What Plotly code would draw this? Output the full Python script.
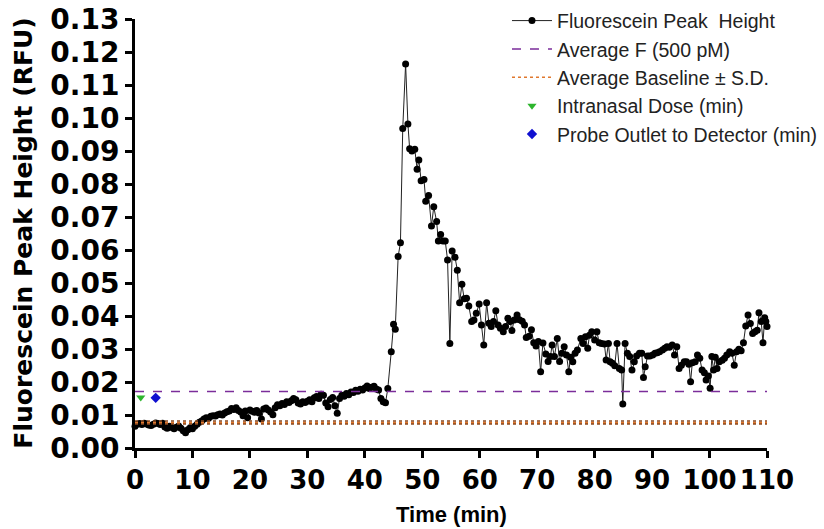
import plotly.graph_objects as go

# Fluorescein peak height trace (time in min, height in RFU)
time_min = [
    0.0, 0.4, 0.8, 1.2, 1.6, 2.0, 2.4, 2.8, 3.2, 3.6, 4.0, 4.4, 4.8, 5.2, 5.6, 6.0, 6.4, 6.8, 7.2, 7.6,
    8.0, 8.4, 8.8, 9.2, 9.6, 10.0, 10.4, 10.8, 11.2, 11.6, 12.0, 12.4, 12.8, 13.2, 13.6, 14.0, 14.4, 14.8,
    15.2, 15.6, 16.0, 16.4, 16.8, 17.2, 17.6, 18.0, 18.4, 18.8, 19.2, 19.6, 20.0, 20.4, 20.8, 21.2, 21.6,
    22.0, 22.4, 22.8, 23.2, 23.6, 24.0, 24.4, 24.8, 25.2, 25.6, 26.0, 26.4, 26.8, 27.2, 27.6, 28.0, 28.4,
    28.8, 29.2, 29.6, 30.0, 30.4, 30.8, 31.2, 31.6, 32.0, 32.4, 32.8, 33.2, 33.6, 34.0, 34.4, 34.8, 35.2,
    35.6, 36.0, 36.4, 36.8, 37.2, 37.6, 38.0, 38.4, 38.8, 39.2, 39.6, 40.0, 40.4, 40.8, 41.2, 41.6, 42.0,
    42.4, 42.8, 43.2, 43.6, 44.0,
    44.6, 45.0, 45.3, 45.8, 46.2, 46.6, 47.1, 47.5, 47.8, 48.2, 48.7, 49.1, 49.4, 49.8, 50.3, 50.6, 51.1,
    51.6, 52.0, 52.5, 52.8, 53.2, 53.6, 54.0, 54.4, 54.8, 55.2, 55.7, 56.1, 56.5, 56.9, 57.3, 57.7, 58.1,
    58.6, 59.0, 59.4, 59.9, 60.3, 60.7, 61.2, 61.6, 62.0, 62.4, 62.8, 63.2, 63.6, 64.1, 64.5, 64.9, 65.3,
    65.6, 66.0, 66.5, 66.9, 67.4, 67.8, 68.1, 68.6, 69.0, 69.4, 69.8, 70.2, 70.6, 71.0, 71.5, 71.9, 72.3,
    72.6, 73.0, 73.5, 73.9, 74.3, 74.7, 75.1, 75.5, 75.8, 76.2, 76.6, 77.0, 77.6, 78.0, 78.4, 78.8, 79.1,
    79.5, 80.0, 80.4, 80.8, 81.2, 81.7, 82.0, 82.4, 82.7, 83.1, 83.5, 83.9, 84.3, 84.7, 84.9, 85.3, 85.7,
    86.1, 86.5, 86.9, 87.3, 87.8, 88.2, 88.5, 88.8, 89.2, 89.6, 90.1, 90.5, 90.9, 91.3, 91.8, 92.2, 92.6,
    93.0, 93.5, 93.9, 94.3, 94.7, 95.1, 95.6, 96.0, 96.4, 96.7, 97.0, 97.5, 97.9, 98.3, 98.7, 99.1, 99.4,
    99.8, 100.1, 100.4, 100.7, 101.0, 101.3, 101.7, 102.2, 102.6, 103.0, 103.5, 103.9, 104.3, 104.7,
    105.1, 105.5, 105.9, 106.3, 106.7, 107.1, 107.5, 107.9, 108.3, 108.6, 109.0, 109.3, 109.6, 109.8, 110.0,
]
peak_height = [
    0.0066, 0.0072, 0.0074, 0.0071, 0.0075, 0.0073, 0.0070, 0.0068, 0.0072, 0.0076, 0.0074, 0.0071, 0.0075,
    0.0064, 0.0060, 0.0066, 0.0062, 0.0058, 0.0063, 0.0067, 0.0060, 0.0052, 0.0046, 0.0055, 0.0061, 0.0058,
    0.0066, 0.0072, 0.0078, 0.0082, 0.0088, 0.0092, 0.0090, 0.0096, 0.0098, 0.0097, 0.0101, 0.0103, 0.0100,
    0.0106, 0.0110, 0.0112, 0.0120, 0.0117, 0.0122, 0.0114, 0.0109, 0.0098, 0.0112, 0.0092, 0.0115, 0.0111,
    0.0108, 0.0114, 0.0106, 0.0088, 0.0118, 0.0121, 0.0115, 0.0109, 0.0101, 0.0122, 0.0131, 0.0128, 0.0135,
    0.0132, 0.0140, 0.0138, 0.0143, 0.0150, 0.0146, 0.0136, 0.0133, 0.0140, 0.0138, 0.0142, 0.0146, 0.0140,
    0.0152, 0.0156, 0.0150, 0.0163, 0.0160, 0.0136, 0.0125, 0.0147, 0.0153, 0.0128, 0.0105, 0.0150, 0.0160,
    0.0157, 0.0165, 0.0161, 0.0170, 0.0168, 0.0175, 0.0172, 0.0178, 0.0176, 0.0182, 0.0188, 0.0180, 0.0184,
    0.0187, 0.0179, 0.0176, 0.0150, 0.0140, 0.0137, 0.0180,
    0.0292, 0.0375, 0.0360, 0.0580, 0.0622, 0.0968, 0.1164, 0.0982, 0.0907, 0.0900, 0.0905, 0.0845, 0.0873,
    0.0810, 0.0814, 0.0748, 0.0765, 0.0673, 0.0731, 0.0686, 0.0627, 0.0647, 0.0627, 0.0627, 0.0570, 0.0317,
    0.0597, 0.0578, 0.0539, 0.0440, 0.0496, 0.0452, 0.0454, 0.0430, 0.0383, 0.0388, 0.0408, 0.0436, 0.0373,
    0.0312, 0.0440, 0.0378, 0.0368, 0.0383, 0.0416, 0.0373, 0.0363, 0.0352, 0.0368, 0.0393, 0.0383, 0.0356,
    0.0388, 0.0403, 0.0389, 0.0384, 0.0373, 0.0335, 0.0339, 0.0358, 0.0319, 0.0309, 0.0323, 0.0231, 0.0318,
    0.0285, 0.0262, 0.0277, 0.0312, 0.0277, 0.0332, 0.0262, 0.0287, 0.0307, 0.0282, 0.0231, 0.0275, 0.0261,
    0.0287, 0.0297, 0.0332, 0.0317, 0.0337, 0.0302, 0.0342, 0.0352, 0.0327, 0.0352, 0.0319, 0.0317, 0.0315,
    0.0267, 0.0317, 0.0261, 0.0257, 0.0249, 0.0317, 0.0241, 0.0236, 0.0133, 0.0317, 0.0287, 0.0277, 0.0236,
    0.0261, 0.0279, 0.0287, 0.0287, 0.0214, 0.0246, 0.0279, 0.0279, 0.0282, 0.0287, 0.0289, 0.0292, 0.0297,
    0.0302, 0.0307, 0.0305, 0.0312, 0.0282, 0.0307, 0.0241, 0.0251, 0.0261, 0.0261, 0.0254, 0.0201, 0.0258,
    0.0261, 0.0282, 0.0272, 0.0236, 0.0228, 0.0206, 0.0218, 0.0181, 0.0277, 0.0236, 0.0275, 0.0241, 0.0261,
    0.0266, 0.0272, 0.0282, 0.0292, 0.0287, 0.0251, 0.0292, 0.0299, 0.0295, 0.0319, 0.0370, 0.0403, 0.0377,
    0.0347, 0.0352, 0.0357, 0.0410, 0.0383, 0.0319, 0.0395, 0.0383, 0.0368,
]

# Reference levels
average_f = 0.0171
baseline_mean = 0.00775
baseline_sd = 0.00045
line_span = [0, 110]

# Event markers (time, height)
dose_time, dose_level = [1.0], [0.0153]
probe_time, probe_level = [3.6], [0.0152]

x_ticks = list(range(0, 111, 10))
y_ticks = [i / 100 for i in range(0, 14)]

fig = go.Figure()

fig.add_trace(go.Scatter(
    x=time_min, y=peak_height, mode="lines+markers",
    name="Fluorescein Peak  Height",
    line=dict(color="#222222", width=1),
    marker=dict(color="black", size=7, symbol="circle"),
    cliponaxis=False,
))

fig.add_trace(go.Scatter(
    x=line_span, y=[average_f, average_f], mode="lines",
    name="Average F (500 pM)",
    line=dict(color="#7B2D9A", width=1.6, dash="dash"),
))

for i, lvl in enumerate([baseline_mean - baseline_sd, baseline_mean, baseline_mean + baseline_sd]):
    fig.add_trace(go.Scatter(
        x=line_span, y=[lvl, lvl], mode="lines",
        name="Average Baseline \u00b1 S.D.",
        legendgroup="baseline", showlegend=(i == 1),
        line=dict(color="#E0782E" if i == 1 else "#8A4A22", width=1.6, dash="dot"),
    ))

fig.add_trace(go.Scatter(
    x=dose_time, y=dose_level, mode="markers",
    name="Intranasal Dose (min)",
    marker=dict(color="#2DB52D", size=8, symbol="triangle-down"),
))

fig.add_trace(go.Scatter(
    x=probe_time, y=probe_level, mode="markers",
    name="Probe Outlet to Detector (min)",
    marker=dict(color="#1010D0", size=8, symbol="diamond"),
))

axis_common = dict(
    showline=True, linecolor="black", linewidth=3,
    ticks="outside", ticklen=7, tickwidth=3, tickcolor="black",
    showgrid=False, zeroline=False, mirror=False, automargin=False,
    tickangle=0,
)

fig.update_xaxes(
    range=[0, 110], tickmode="array", tickvals=x_ticks,
    ticktext=[str(v) for v in x_ticks],
    tickfont=dict(family="DejaVu Sans", size=26, color="black", weight="bold"),
    **axis_common,
)
fig.update_yaxes(
    range=[0, 0.13], tickmode="array", tickvals=y_ticks,
    ticktext=[f"{v:.2f}" for v in y_ticks],
    tickfont=dict(family="DejaVu Sans", size=28, color="black", weight="bold"),
    **axis_common,
)

fig.add_annotation(
    text="Time (min)", xref="paper", yref="paper", x=0.5, y=-0.155,
    xanchor="center", yanchor="middle", showarrow=False,
    font=dict(family="Liberation Sans", size=22, color="black", weight="bold"),
)
fig.add_annotation(
    text="Fluorescein Peak Height (RFU)", xref="paper", yref="paper",
    x=-0.177, y=0.5, xanchor="center", yanchor="middle", textangle=-90, showarrow=False,
    font=dict(family="DejaVu Sans", size=25, color="black", weight="bold"),
)

fig.update_layout(
    width=824, height=529,
    margin=dict(l=135, r=57, t=19, b=81, autoexpand=False),
    paper_bgcolor="white", plot_bgcolor="white",
    showlegend=True,
    legend=dict(
        x=0.5886, y=1.041, xanchor="left", yanchor="top",
        bgcolor="rgba(0,0,0,0)",
        font=dict(family="Liberation Sans", size=19.5, color="#222222"),
        itemwidth=40, tracegroupgap=0,
    ),
)

fig.write_html("out.html")
